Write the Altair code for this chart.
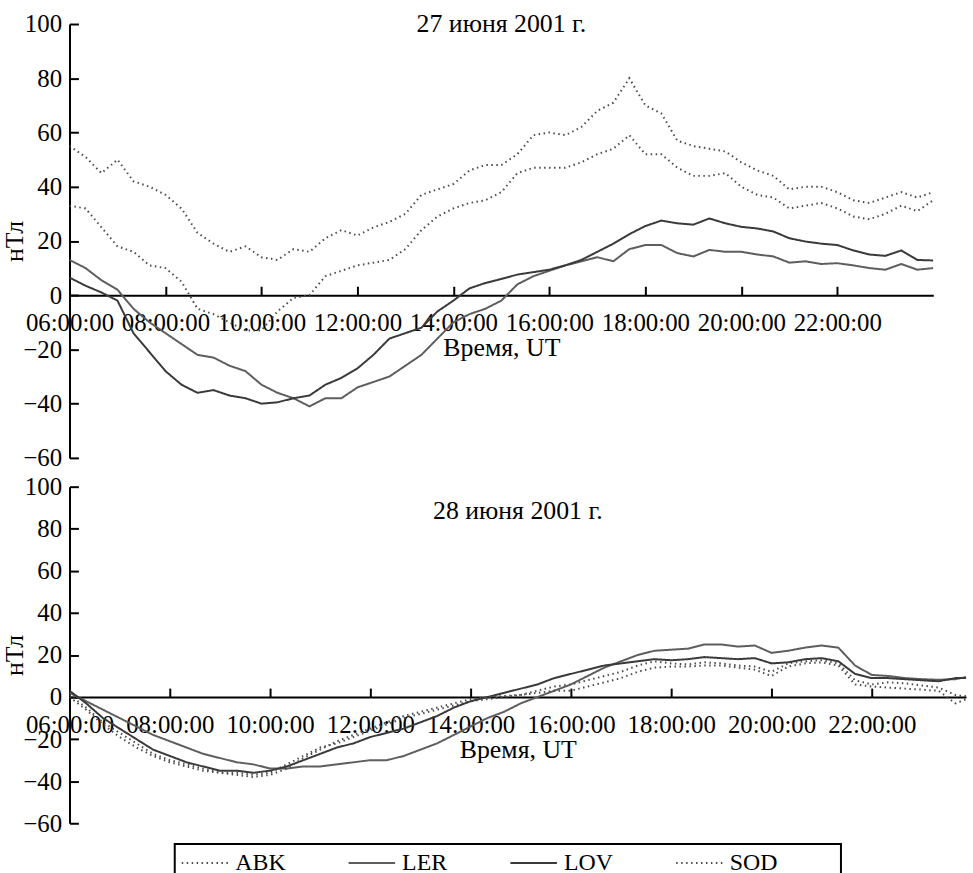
import altair as alt
import pandas as pd

FONT = "Liberation Serif, Times New Roman, DejaVu Serif, serif"
STATIONS = ["ABK", "LER", "LOV", "SOD"]
TICK_HOURS = [6, 8, 10, 12, 14, 16, 18, 20, 22]
TICK_LABELS = ["06:00:00", "08:00:00", "10:00:00", "12:00:00", "14:00:00",
               "16:00:00", "18:00:00", "20:00:00", "22:00:00"]
Y_TICKS = [-60, -40, -20, 0, 20, 40, 60, 80, 100]
# samples every 20 minutes, 06:00 .. 24:00 (hours UT)
TIMES = [6 + i / 3 for i in range(55)]

# ---- 27 June 2001 ----
abk_27 = [55, 51, 45, 50, 42, 40, 37, 32, 23, 19, 16, 18, 14, 13, 17, 16, 21, 24,
          22, 25, 27, 30, 37, 39, 41, 46, 48, 48, 52, 59, 60, 59, 62, 68, 71, 80,
          70, 67, 57, 55, 54, 53, 49, 46, 44, 39, 40, 40, 38, 35, 34, 36, 38, 36, 38]
sod_27 = [33, 32, 25, 18, 16, 11, 10, 5, -5, -7, -10, -13, -13, -6, -1, 0, 7, 9,
          11, 12, 13, 17, 24, 29, 32, 34, 35, 38, 45, 47, 47, 47, 49, 52, 54, 59,
          52, 52, 47, 44, 44, 45, 40, 37, 36, 32, 33, 34, 32, 29, 28, 30, 33, 31, 35]
ler_27 = [13, 10, 5.5, 2, -5, -10, -14, -18, -22, -23, -26, -28, -33, -36, -38, -41, -38, -38,
          -34, -32, -30, -26, -22, -16, -10, -7, -5, -2, 4, 7, 9, 11, 12.5, 14, 12.5, 17,
          18.5, 18.5, 15.5, 14.3, 16.7, 16, 16, 15, 14.3, 12, 12.5, 11.5, 11.8, 11, 10, 9.4, 11.5, 9.4, 10]
lov_27 = [6.5, 3.5, 1, -2, -14, -21, -28, -33, -36, -35, -37, -38, -40, -39.5, -38, -37, -33, -30.5,
          -27, -22, -16, -14, -12, -6, -2, 2.5, 4.5, 6, 7.6, 8.5, 9.4, 11, 13, 16, 19, 22.5,
          25.5, 27.5, 26.5, 26, 28.3, 26.5, 25.2, 24.6, 23.5, 21, 19.8, 19, 18.5, 16.5, 15, 14.5, 16.5, 13, 12.8]

# ---- 28 June 2001 ----
abk_28 = [1, -5, -12, -17, -22, -27, -30, -32, -34, -36, -36, -37, -36, -32, -28, -24, -22, -19,
          -16, -13, -10, -8, -6, -4, -2, -1, 0, 1, 3, 5, 6, 8, 10, 12, 15, 17,
          16, 15.5, 16.5, 16, 15, 14.5, 12, 16, 17, 17.5, 16, 8, 6, 7, 6.5, 5.5, 4.5, 1, 0]
ler_28 = [2, -2, -6, -10, -14, -18, -21, -24, -27, -29, -31, -32, -34, -34, -33, -33, -32, -31,
          -30, -30, -28, -25, -22, -18, -14, -10, -7, -3, 0, 3, 6, 10, 14, 17, 20, 22,
          22.5, 23, 25, 25, 24, 24.5, 21, 22, 23.5, 24.5, 23.5, 15, 10.5, 10, 9, 8.5, 8.2, 8.5, 10]
lov_28 = [3, -3, -10, -15, -20, -25, -28, -31, -33, -35, -35, -36, -35, -33, -30, -27, -24, -22,
          -19, -17, -15, -12, -9, -5, -2, 0, 2, 4, 6, 9, 11, 13, 15, 16, 17, 18,
          17.5, 18, 19, 18.5, 18, 18.5, 16, 16.5, 18, 18.5, 17, 11, 9, 9, 8.5, 8, 7.5, 9, 9]
sod_28 = [0, -6, -13, -19, -24, -28, -31, -33, -35, -36, -37, -38, -37, -34, -29, -25, -21, -18,
          -15, -12, -9, -7, -5, -3, -1, 0, 0.5, 1, 2, 3, 3, 5, 7, 9, 12, 14,
          14.5, 14.5, 15, 15, 14, 13, 10, 14.5, 16, 16.5, 15, 6, 5, 4.5, 4, 3.5, 3, -3, 0]


def frame(series):
    rows = []
    for st, vals in zip(STATIONS, series):
        for t, v in zip(TIMES, vals):
            rows.append({"t": t, "v": v, "station": st})
    return pd.DataFrame(rows)


df27 = frame([abk_27, ler_27, lov_27, sod_27])
df28 = frame([abk_28, ler_28, lov_28, sod_28])

hours_js = "[" + ",".join(str(h) for h in TICK_HOURS) + "]"
labels_js = "[" + ",".join("'" + s + "'" for s in TICK_LABELS) + "]"
label_expr = labels_js + "[indexof(" + hours_js + ", datum.value)]"

legend = alt.Legend(
    title="\u00a0", titleOrient="right", titlePadding=58, titleFontSize=24, titleFont=FONT,
    orient="none", legendX=106, legendY=826, direction="horizontal",
    columns=4, symbolType="stroke", symbolSize=2200, symbolStrokeWidth=2,
    labelFont=FONT, labelFontSize=24, labelColor="black", labelOffset=6,
    columnPadding=62, padding=6, strokeColor="black", clipHeight=26,
)
color = alt.Color("station:N", scale=alt.Scale(domain=STATIONS, range=["#4a4a4a", "#5e5e5e", "#3a3a3a", "#4a4a4a"]),
                  legend=legend)
dash = alt.StrokeDash("station:N", scale=alt.Scale(domain=STATIONS, range=[[1.5, 3.5], [1, 0], [1, 0], [1.5, 3.5]]),
                      legend=legend)


def panel(df, title, width, height, xmax, title_offset):
    from_top = height * 100 / 160
    from_bottom = height * 60 / 160
    xs = alt.Scale(domain=[6, xmax], nice=False, zero=False)
    ys = alt.Scale(domain=[-60, 100], nice=False, zero=False)
    lines = alt.Chart(df).mark_line(clip=True, strokeWidth=2).encode(
        x=alt.X("t:Q", scale=xs, axis=alt.Axis(
            orient="bottom", offset=-from_bottom, values=TICK_HOURS, labelExpr=label_expr,
            ticks=False, tickSize=0, labelPadding=16, domainWidth=2, domainColor="black",
            grid=False, labelFont=FONT, labelFontSize=25, labelColor="black", labelOverlap=False,
            labelFlush=False, labelBound=False,
            title="Время, UT", titleFont=FONT, titleFontSize=26, titleFontWeight="normal",
            titleColor="black", titlePadding=-1)),
        y=alt.Y("v:Q", scale=ys, axis=alt.Axis(
            orient="left", values=Y_TICKS, ticks=False, tickSize=0, labelPadding=8,
            domainWidth=2, domainColor="black", grid=False, labelFont=FONT, labelFontSize=25,
            labelColor="black", labelOverlap=False, labelFlush=False, maxExtent=30, minExtent=30,
            title="нТл", titleFont=FONT, titleFontSize=26, titleFontWeight="normal",
            titleColor="black", titlePadding=12)),
        color=color,
        strokeDash=dash,
    )
    ticks = alt.Chart(df).mark_line(opacity=0).encode(
        x=alt.X("t:Q", scale=xs, axis=alt.Axis(
            orient="top", offset=-from_top, values=TICK_HOURS, labels=False, domain=False,
            ticks=True, tickSize=9, tickWidth=2, tickColor="black", grid=False, title=None)),
        y=alt.Y("v:Q", scale=ys, axis=alt.Axis(
            orient="right", offset=-width, values=Y_TICKS, labels=False, domain=False,
            ticks=True, tickSize=9, tickWidth=2, tickColor="black", grid=False, title=None)),
        detail="station:N",
    )
    return alt.layer(lines, ticks).resolve_axis(x="independent", y="independent").properties(
        width=width, height=height,
        title=alt.TitleParams(text=title, font=FONT, fontSize=26, fontWeight="normal",
                              color="black", anchor="middle", offset=title_offset,
                              baseline="alphabetic"),
    )


p1 = panel(df27, "27 июня 2001 г.", 870, 437, 24, -46)
p2 = panel(df28, "28 июня 2001 г.", 903, 339, 23.88, -71)

chart = alt.vconcat(p1, p2, spacing=29, bounds="flush").properties(
    padding={"left": 2, "top": 8, "right": 0, "bottom": 0}
).configure_view(stroke=None).configure_legend(strokeWidth=2)

chart.save("out.html", embed_options={"renderer": "svg", "actions": False})
